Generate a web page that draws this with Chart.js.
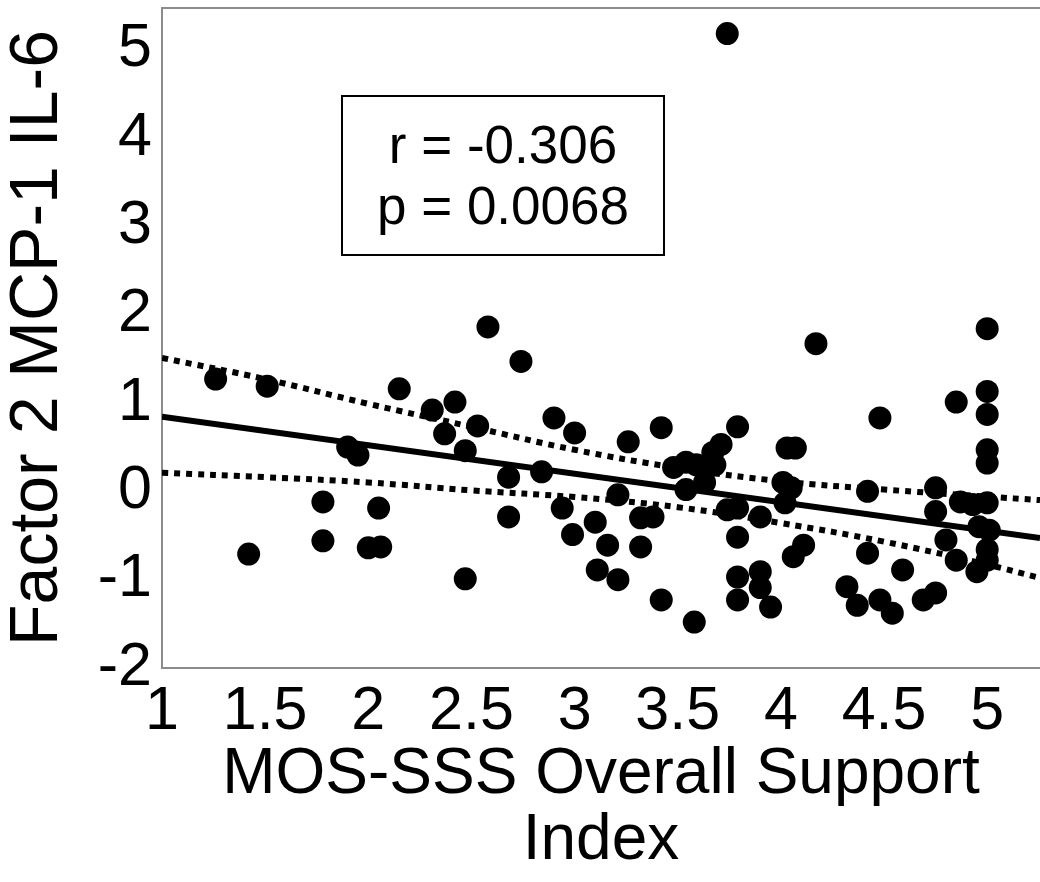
<!DOCTYPE html>
<html>
<head>
<meta charset="utf-8">
<script src="https://cdn.jsdelivr.net/npm/chart.js@4"></script>
<style>
  body { margin: 0; background: #fff; }
  #wrap { width: 1040px; height: 882px; }
</style>
</head>
<body>
<div id="wrap"><canvas id="myChart" width="1040" height="882"></canvas></div>
<script>
// MOS-SSS support index (x) vs factor 2 score (y)
var supportX = [1.26, 1.42, 1.51, 1.78, 1.78, 1.90, 1.95, 2.00, 2.06, 2.05, 2.15, 2.31, 2.42, 2.37, 2.53, 2.47, 2.47,
  2.58, 2.68, 2.68, 2.74, 2.84, 2.90, 2.94, 3.00, 2.99, 3.10, 3.11, 3.16, 3.21, 3.21, 3.26, 3.32, 3.38, 3.32, 3.42, 3.42,
  3.48, 3.54, 3.59, 3.54, 3.63, 3.68, 3.58, 3.67, 3.71, 3.79, 3.74, 3.74, 3.79, 3.90, 3.79, 3.79, 3.90, 3.79, 3.90, 3.95,
  4.03, 4.07, 4.01, 4.05, 4.02, 4.11, 4.06, 4.17, 4.32, 4.37, 4.42, 4.42, 4.48, 4.48, 4.54, 4.59, 4.69, 4.75, 4.75, 4.75,
  4.80, 4.85, 4.85, 4.87, 4.93, 5.00, 5.00, 5.00, 5.00, 5.00, 5.00, 4.96, 5.01, 5.00, 5.00, 4.95];
var factorY = [1.27, -0.71, 1.19, -0.12, -0.56, 0.50, 0.41, -0.64, -0.63, -0.19, 1.16, 0.92, 1.01, 0.65, 0.74, 0.46, -0.99,
  1.86, 0.16, -0.29, 1.47, 0.22, 0.83, -0.19, 0.66, -0.49, -0.35, -0.89, -0.61, -0.04, -1.00, 0.56, -0.30, -0.29, -0.63, 0.72, -1.23,
  0.27, 0.33, 0.30, 0.02, 0.10, 0.30, -1.48, 0.44, 0.53, 0.73, 5.18, -0.21, -0.19, -0.29, -0.52, -0.97, -0.91, -1.23, -1.09, -1.31,
  0.49, 0.49, 0.10, 0.04, -0.13, -0.61, -0.74, 1.67, -1.08, -1.29, 0.00, -0.70, 0.83, -1.23, -1.38, -0.89, -1.23, -1.15, 0.04, -0.23,
  -0.55, 1.01, -0.78, -0.12, -0.15, 1.84, 1.13, 0.87, 0.47, 0.32, -0.13, -0.40, -0.44, -0.66, -0.78, -0.91];

// fitted line and its confidence band
var fitX = [1, 5.256];
var fitY = [0.843, -0.528];
var bandX = [1, 1.5, 2, 2.5, 3, 3.5, 4, 4.5, 5, 5.256];
var bandUpper = [1.51, 1.27, 0.99, 0.73, 0.47, 0.265, 0.114, 0.02, -0.06, -0.10];
var bandLower = [0.21, 0.16, 0.10, 0.01, -0.065, -0.18, -0.36, -0.57, -0.83, -0.98];

var xTicks = [1, 1.5, 2, 2.5, 3, 3.5, 4, 4.5, 5];
var yTicks = [-2, -1, 0, 1, 2, 3, 4, 5];
var statLines = ["r = -0.306", "p = 0.0068"];

var FONT = "'Liberation Sans', Arial, sans-serif";
var AXIS_GREY = '#8c8c8c';

function toPoints(xs, ys) {
  return xs.map(function(x, i) { return {x: x, y: ys[i]}; });
}

function noPadding(scale) {
  scale.paddingLeft = 0;
  scale.paddingRight = 0;
  scale.paddingTop = 0;
  scale.paddingBottom = 0;
}

// r / p text box in the upper left of the plot
var statBox = {
  id: 'statBox',
  afterDatasetsDraw: function(chart) {
    var ctx = chart.ctx;
    ctx.save();
    ctx.lineWidth = 2;
    ctx.strokeStyle = '#000';
    ctx.strokeRect(342, 96, 322, 159);
    ctx.fillStyle = '#000';
    ctx.font = '53px ' + FONT;
    ctx.textAlign = 'center';
    ctx.textBaseline = 'middle';
    ctx.fillText(statLines[0], 503, 148);
    ctx.fillText(statLines[1], 503, 209);
    ctx.restore();
  }
};

new Chart("myChart", {
  type: "scatter",
  data: {
    datasets: [{
      data: toPoints(supportX, factorY),
      backgroundColor: '#000',
      borderWidth: 0,
      pointRadius: 11.5,
      pointHoverRadius: 11.5
    }, {
      data: toPoints(fitX, fitY),
      showLine: true,
      borderColor: '#000',
      borderWidth: 6,
      pointRadius: 0
    }, {
      data: toPoints(bandX, bandUpper),
      showLine: true,
      borderColor: '#000',
      borderWidth: 6,
      borderDash: [6, 6],
      tension: 0.4,
      pointRadius: 0
    }, {
      data: toPoints(bandX, bandLower),
      showLine: true,
      borderColor: '#000',
      borderWidth: 6,
      borderDash: [6, 6],
      tension: 0.4,
      pointRadius: 0
    }]
  },
  options: {
    responsive: false,
    animation: false,
    devicePixelRatio: 1,
    layout: {autoPadding: false, padding: {top: 8, right: 0, left: 0, bottom: 0}},
    plugins: {
      legend: {display: false},
      tooltip: {enabled: false}
    },
    scales: {
      x: {
        type: 'linear',
        min: 1,
        max: 5.256,
        grid: {display: false, drawTicks: false},
        border: {display: true, color: AXIS_GREY, width: 2},
        afterBuildTicks: function(scale) { scale.ticks = xTicks.map(function(v) { return {value: v}; }); },
        afterFit: function(scale) { scale.height = 214; noPadding(scale); },
        ticks: {
          color: '#000',
          padding: 8,
          maxRotation: 0,
          autoSkip: false,
          font: {family: FONT, size: 61},
          callback: function(v) { return String(v); }
        },
        title: {
          display: true,
          text: ["MOS-SSS Overall Support", "Index"],
          color: '#000',
          font: {family: FONT, size: 64, lineHeight: 1.03},
          padding: {top: 0, bottom: 8}
        }
      },
      xTop: {
        type: 'linear',
        position: 'top',
        min: 1,
        max: 5.256,
        grid: {display: false, drawTicks: false},
        border: {display: true, color: AXIS_GREY, width: 2},
        ticks: {display: false},
        afterFit: function(scale) { scale.height = 0; noPadding(scale); }
      },
      y: {
        type: 'linear',
        min: -2,
        max: 5.47,
        grid: {display: false, drawTicks: false},
        border: {display: true, color: AXIS_GREY, width: 2},
        afterBuildTicks: function(scale) { scale.ticks = yTicks.map(function(v) { return {value: v}; }); },
        afterFit: function(scale) { scale.width = 162; noPadding(scale); },
        ticks: {
          color: '#000',
          padding: 10,
          font: {family: FONT, size: 61},
          callback: function(v) { return String(v); }
        },
        title: {
          display: true,
          text: "Factor 2 MCP-1 IL-6",
          color: '#000',
          font: {family: FONT, size: 68, lineHeight: 1.0},
          padding: {top: 4, bottom: 0}
        }
      }
    }
  },
  plugins: [statBox]
});
</script>
</body>
</html>
